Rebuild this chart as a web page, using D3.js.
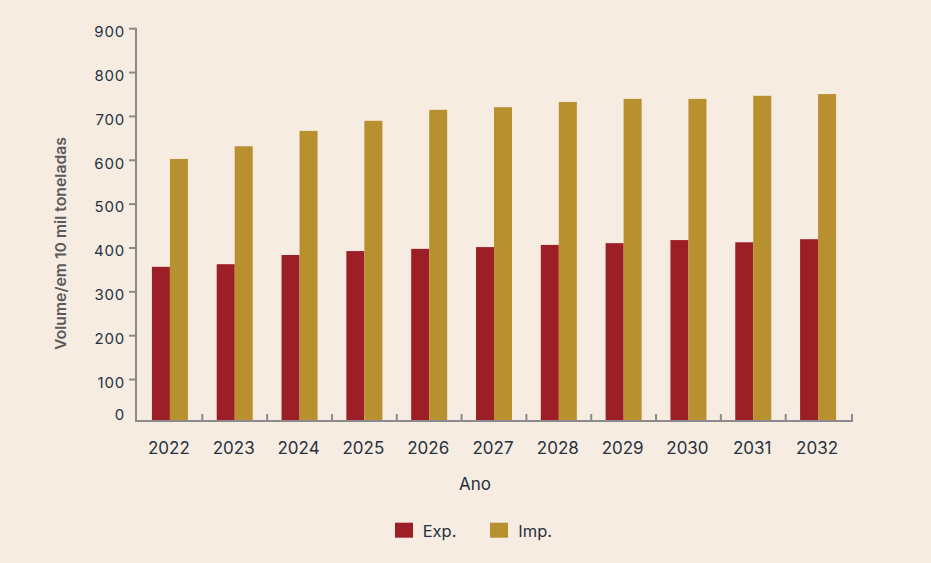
<!DOCTYPE html>
<html>
<head>
<meta charset="utf-8">
<script src="https://cdn.jsdelivr.net/npm/d3@7"></script>
<style>
  html, body { margin: 0; padding: 0; background: #F6ECE1; }
  svg { display: block; }
  text { font-family: Inter, "Open Sans", sans-serif; fill: #26323f; }
</style>
</head>
<body>
<svg id="chart" width="931" height="563"></svg>
<script>
const categories = ["2022","2023","2024","2025","2026","2027","2028","2029","2030","2031","2032"];
const seriesNames = ["Exp.", "Imp."];
const expValues = [357, 363, 384, 393, 398, 402, 407, 411, 418, 413, 420];
const impValues = [603, 632, 667, 690, 715, 721, 733, 740, 740, 747, 751];
const yTicks = [0, 100, 200, 300, 400, 500, 600, 700, 800, 900];
const colors = { "Exp.": "#9C1F27", "Imp.": "#B89030" };

const svg = d3.select("#chart");
svg.append("rect").attr("width", 931).attr("height", 563).attr("fill", "#F6ECE1");

const axisLeftX = 136, baseY = 421, axisRightX = 853;
const x = d3.scaleBand().domain(categories).range([137.5, 850.5]).padding(0);
const xs = d3.scaleBand().domain(seriesNames).range([0, x.bandwidth()]).paddingInner(0).paddingOuter(0.8);
const y = d3.scaleLinear().domain([0, 900]).range([423.4, 28.7]);

const data = categories.map((c, i) => ({ cat: c, vals: [
  { s: "Exp.", v: expValues[i] }, { s: "Imp.", v: impValues[i] } ] }));

// bars
const g = svg.append("g");
g.selectAll("g.cat").data(data).join("g")
  .attr("transform", d => `translate(${x(d.cat)},0)`)
  .selectAll("rect").data(d => d.vals).join("rect")
  .attr("x", d => xs(d.s))
  .attr("width", xs.bandwidth())
  .attr("y", d => y(d.v))
  .attr("height", d => baseY - 1 - y(d.v))
  .attr("fill", d => colors[d.s]);

const axisColor = "#8a8a8a";
// y axis
svg.append("line").attr("x1", axisLeftX).attr("x2", axisLeftX)
  .attr("y1", y(900) - 1).attr("y2", baseY + 1)
  .attr("stroke", axisColor).attr("stroke-width", 2);
svg.selectAll("line.ytick").data(yTicks.filter(t => t > 0)).join("line")
  .attr("x1", axisLeftX - 7).attr("x2", axisLeftX)
  .attr("y1", d => y(d)).attr("y2", d => y(d))
  .attr("stroke", axisColor).attr("stroke-width", 2);
svg.selectAll("text.ylab").data(yTicks).join("text")
  .attr("x", 125)
  .attr("y", d => d === 0 ? 415 : y(d) + 3)
  .attr("dy", "0.35em")
  .attr("text-anchor", "end")
  .style("font-size", "15px")
  .style("letter-spacing", "0.8px")
  .text(d => d);

// x axis
svg.append("line").attr("x1", axisLeftX - 1).attr("x2", axisRightX)
  .attr("y1", baseY).attr("y2", baseY)
  .attr("stroke", axisColor).attr("stroke-width", 2);
const bounds = categories.slice(1).map(c => x(c)).concat([axisRightX - 1]);
svg.selectAll("line.xtick").data(bounds).join("line")
  .attr("x1", d => d).attr("x2", d => d)
  .attr("y1", baseY - 7).attr("y2", baseY)
  .attr("stroke", axisColor).attr("stroke-width", 2);
svg.selectAll("text.xlab").data(categories).join("text")
  .attr("x", d => x(d) + x.bandwidth() / 2 - 1)
  .attr("y", 454)
  .attr("text-anchor", "middle")
  .style("font-size", "17px")
  .text(d => d);

// axis titles
svg.append("text")
  .attr("x", 475).attr("y", 489.5)
  .attr("text-anchor", "middle")
  .style("font-size", "17px")
  .text("Ano");
svg.append("text")
  .attr("transform", "translate(66,243.5) rotate(-90)")
  .attr("text-anchor", "middle")
  .attr("textLength", 213)
  .attr("lengthAdjust", "spacingAndGlyphs")
  .style("font-size", "15px")
  .style("font-weight", "600")
  .style("fill", "#5a5a5a")
  .text("Volume/em 10 mil toneladas");

// legend
const legendPos = [{ s: "Exp.", rx: 395, tx: 422.7 }, { s: "Imp.", rx: 490, tx: 518.3 }];
const lg = svg.append("g");
lg.selectAll("rect").data(legendPos).join("rect")
  .attr("x", d => d.rx).attr("y", 522.7).attr("width", 18).attr("height", 15)
  .attr("fill", d => colors[d.s]);
lg.selectAll("text").data(legendPos).join("text")
  .attr("x", d => d.tx).attr("y", 536.5)
  .style("font-size", "16.5px")
  .text(d => d.s);
</script>
</body>
</html>
